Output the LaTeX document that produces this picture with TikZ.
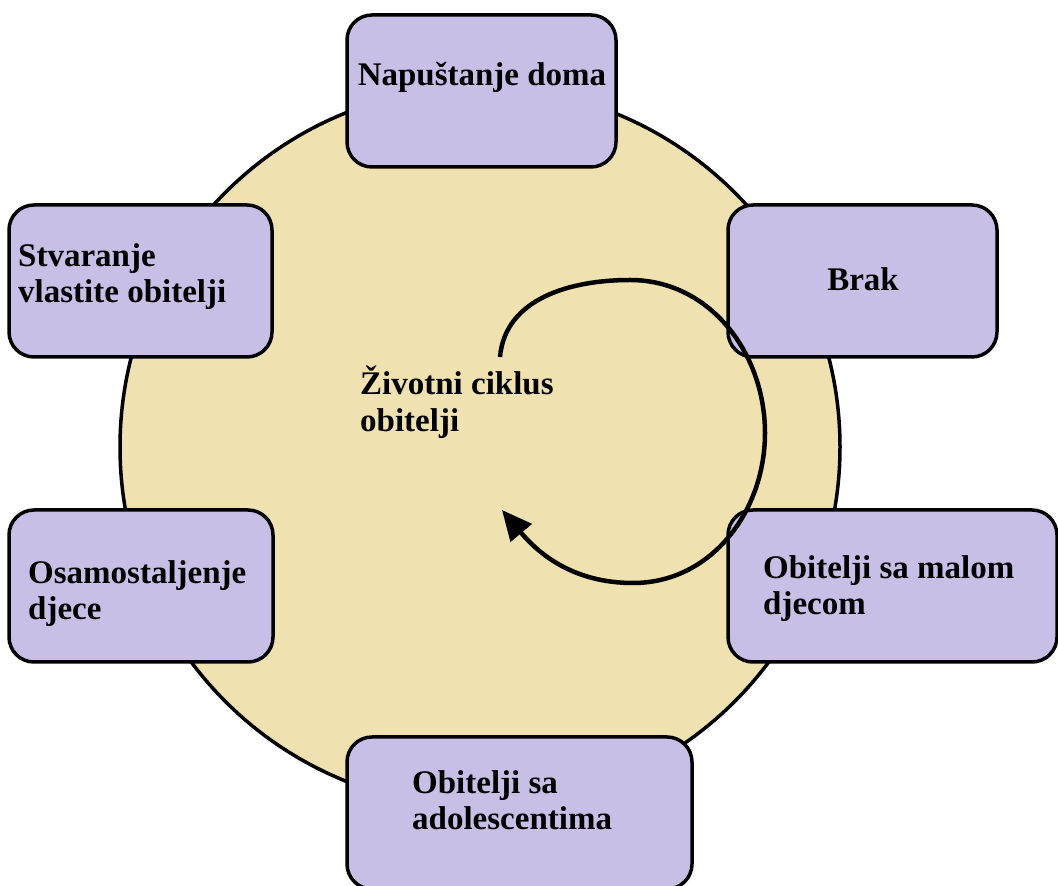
\documentclass[tikz,border=0pt]{standalone}
\usepackage{fontspec}
\setmainfont{Liberation Serif}
\usetikzlibrary{arrows.meta}

\definecolor{cyclefill}{RGB}{240,226,176}
\definecolor{stagefill}{RGB}{199,191,230}

\tikzset{
    stage/.style={draw, line width=3.5pt, fill=stagefill, rounded corners=25pt,
        minimum height=152pt, inner sep=0pt},
    stagetext/.style={font=\bfseries\fontsize{33}{36}\selectfont, align=left,
        anchor=base west, inner sep=0pt},
}

\begin{document}
\begin{tikzpicture}[x=1pt,y=1pt]
        \useasboundingbox (0,0) rectangle (1058,886);

        % Big circle in the background
        \draw[line width=3.5pt, fill=cyclefill] (480,439) circle (360);

        % Stage boxes round the circle
        \node[stage, minimum width=269pt] (home) at (481.5,795) {};
        \node[stage, minimum width=263pt] (family) at (140.5,605) {};
        \node[stage, minimum width=269pt] (marriage) at (862.5,605) {};
        \node[stage, minimum width=329pt] (kids) at (892.5,300) {};
        \node[stage, minimum width=264pt] (leaving) at (141,300) {};
        \node[stage, minimum width=345pt] (teens) at (519.5,73) {};

        % Labels of the stages (base is the last line)
        \node[stagetext, anchor=base] (hometext) at (482,800) {Napuštanje doma};
        \node[stagetext] (familytext) at (18,583) {Stvaranje\\vlastite obitelji};
        \node[stagetext, anchor=base] (marriagetext) at (863,595) {Brak};
        \node[stagetext] (kidstext) at (763,271) {Obitelji sa malom\\djecom};
        \node[stagetext] (leavingtext) at (28,266) {Osamostaljenje\\djece};
        \node[stagetext] (teenstext) at (412,56) {Obitelji sa\\adolescentima};

        % Title in the middle
        \node[stagetext, font=\bfseries\fontsize{33}{37}\selectfont] (cycle) at (360,454) {Životni ciklus\\obitelji};

        % Arrow going round
        \draw[line width=4.5pt, -{Triangle[length=30pt,width=27pt]}]
            (500,529) to[out=85,in=180] (630,606) to[out=0,in=90] (765,453)
            to[out=-90,in=0] (633,303) to[out=180,in=-50] (502,376);
    \end{tikzpicture}
\end{document}
